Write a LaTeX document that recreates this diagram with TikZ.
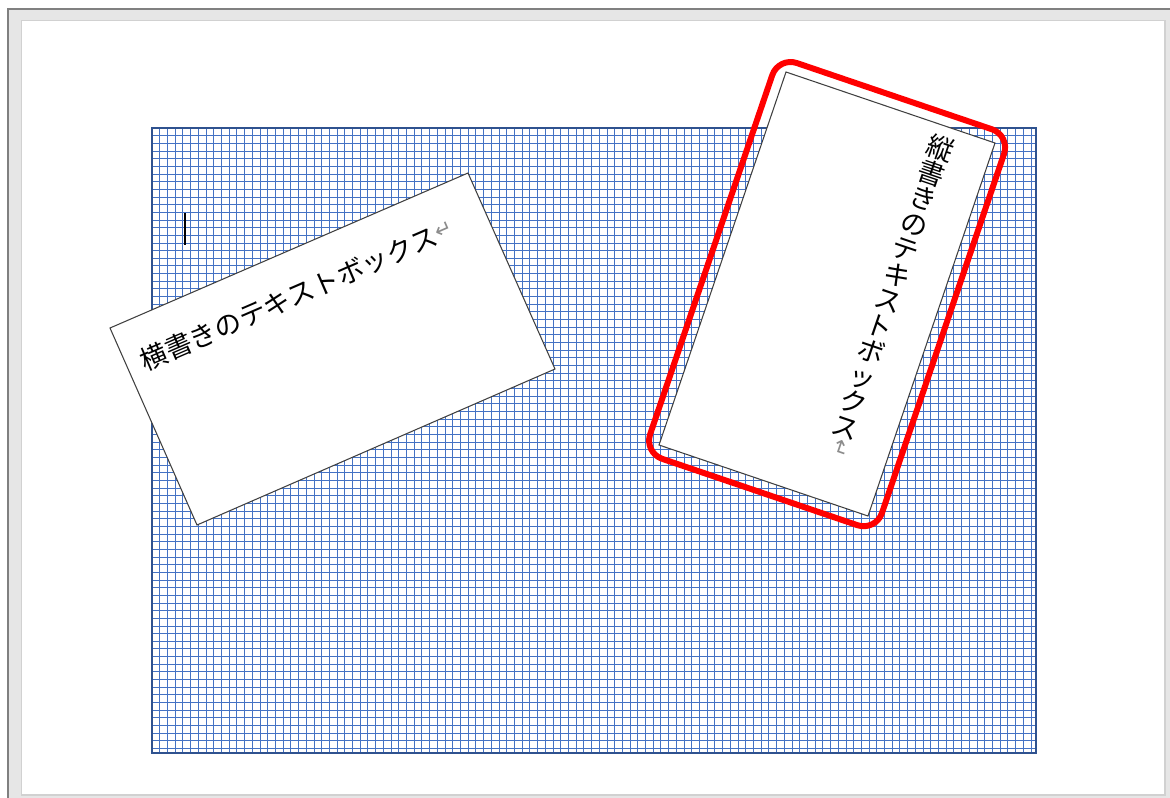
\documentclass[tikz,border=0pt]{standalone}
\usepackage{fontspec}
\newfontfamily\jpfont{Noto Sans CJK JP}
\newfontfamily\arrfont{DejaVu Sans}

\begin{document}
\begin{tikzpicture}[x=0.02cm,y=-0.02cm]


  \definecolor{gridcol}{RGB}{68,114,196}
  \definecolor{gridedge}{RGB}{47,82,143}
  \definecolor{pagegray}{RGB}{230,230,230}
  \definecolor{markcol}{RGB}{140,140,140}

  \newcommand{\retsym}{\raisebox{3pt}{\arrfont\fontsize{12}{12}\selectfont\color{markcol}↵}}

 \tikzset{
      gridln/.style={gridcol,line width=0.45pt},
      boxstl/.style={fill=white,draw=black!75,line width=0.6pt},
      selstl/.style={draw=red,line width=3.4pt,rounded corners=11pt},
      jptext/.style={inner sep=0pt,font=\jpfont\fontsize{15.3}{15.3}\selectfont},
      retmark/.style={inner sep=0pt,text=markcol,font=\arrfont\fontsize{12}{12}\selectfont},
    }

  \useasboundingbox (0,0) rectangle (1170,798);

  %% window frame.
  \fill[white] (0,0) rectangle (1170,798);
  \fill[pagegray] (8,9) rectangle (1170,798);
  \draw[gray,line width=1.2pt] (8,798) -- (8,9) -- (1170,9);
  \filldraw[fill=white,draw=black!18,line width=0.6pt] (21.5,20.5) rectangle (1165,795);

  %% grid paper.
  \coordinate (g0) at (152,128);
  \coordinate (g1) at (1036,753);

  \foreach \i in {1,...,114}
    \draw[gridln] (152+\i*7.71,128) -- (152+\i*7.71,753);
  \foreach \j in {1,...,81}
    \draw[gridln] (152,128+\j*7.66) -- (1036,128+\j*7.66);

  \draw[gridedge,line width=1.2pt] (g0) rectangle (g1);

  % text cursor.
  \draw[line width=0.6pt] (185,213) -- (185,245);

  %% horizontal box.
 \coordinate (h0) at (110,328);
 \coordinate (h1) at (468,173);
 \coordinate (h2) at (555,369);
 \coordinate (h3) at (197,525);

  \filldraw[boxstl] (h0) -- (h1) -- (h2) -- (h3) -- cycle;

  \node[jptext,rotate=23.4,anchor=west] (htxt) at (141.2,362.4) {横書きのテキストボックス\retsym};

  %% vertical box.
 \coordinate (w0) at (786,72);
 \coordinate (w1) at (995,143);
 \coordinate (w2) at (868,516);
 \coordinate (w3) at (659,445);

  \filldraw[boxstl] (w0) -- (w1) -- (w2) -- (w3) -- cycle;

  % selection frame, starts mid top edge.
  \draw[selstl] (894.4,96.2) -- (1010.3,135.5) -- (875.7,531.4) -- (643.9,452.6) -- (778.5,56.8) -- cycle;

  \node[jptext,rotate=-18.8,align=center] (vtxt) at (893,287) {縦\\書\\き\\の\\テ\\キ\\ス\\ト\\ボ\\ッ\\ク\\ス};
  \node[retmark,rotate=-108.8] (vret) at (840,448) {↵};


\end{tikzpicture}
\end{document}
